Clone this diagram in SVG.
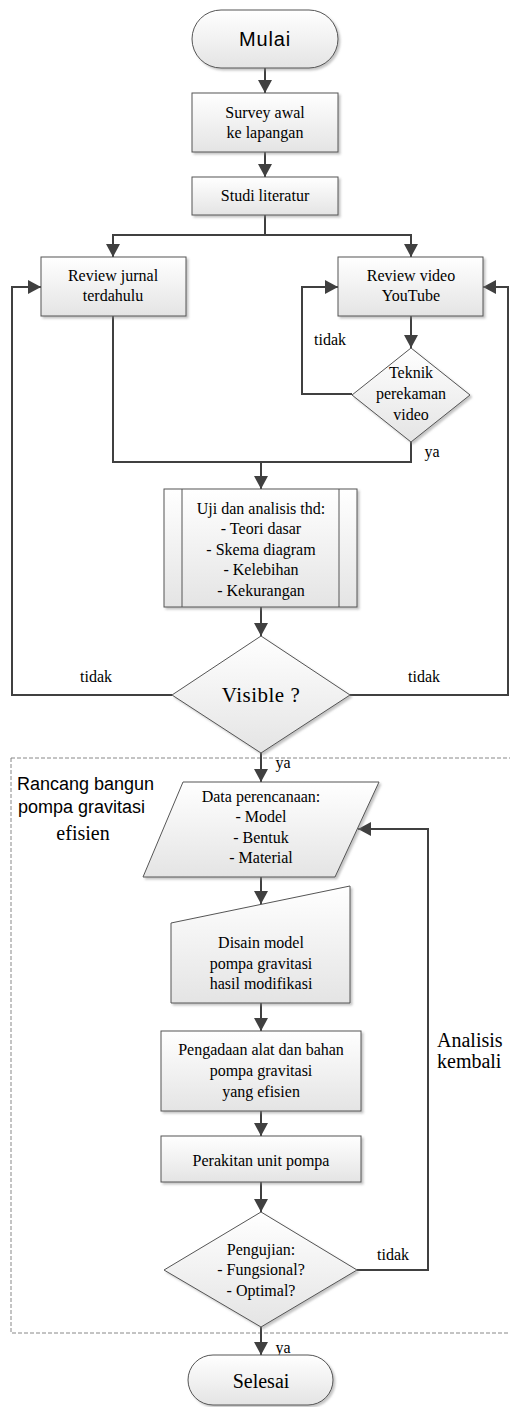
<svg xmlns="http://www.w3.org/2000/svg" width="510" height="1407" viewBox="0 0 510 1407">
<defs>
<linearGradient id="g" x1="0" y1="0" x2="0" y2="1"><stop offset="0" stop-color="#ffffff"/><stop offset="1" stop-color="#e4e4e4"/></linearGradient>
<filter id="sh" x="-10%" y="-10%" width="130%" height="130%"><feDropShadow dx="2" dy="2" stdDeviation="1" flood-color="#888" flood-opacity="0.5"/></filter>
<marker id="ar" markerUnits="userSpaceOnUse" markerWidth="14" markerHeight="14" viewBox="0 0 14 14" refX="13" refY="7" orient="auto"><path d="M0,0 L13,7 L0,14 z" fill="#404040"/></marker>
<style>
.n{fill:url(#g);stroke:#555;stroke-width:1;filter:url(#sh)}
.l{fill:none;stroke:#404040;stroke-width:2}
.a{marker-end:url(#ar)}
.t{font-family:'Liberation Serif','Times New Roman','DejaVu Serif',serif;font-size:16px;fill:#000;text-anchor:middle}
.s{font-family:'Liberation Sans',Arial,sans-serif;fill:#000}
</style>
</defs>
<rect width="510" height="1407" fill="#fff"/>
<g id="region">
<rect x="11" y="758" width="504" height="575" fill="none" stroke="#888" stroke-width="1" stroke-dasharray="4,2"/>
<text class="s" x="17" y="790" font-size="18">Rancang bangun</text>
<text class="s" x="18" y="813" font-size="18">pompa gravitasi</text>
<text class="t" x="83" y="840" style="font-size:20px">efisien</text>
</g>
<g id="connectors">
<path class="l a" d="M265,68 V93"/>
<path class="l a" d="M265,152 V177"/>
<path class="l a" d="M265,215 V235 H113 V257"/>
<path class="l a" d="M265,235 H411 V257"/>
<path class="l a" d="M411,316 V348"/>
<path class="l a" d="M352,394 H302 V287 H338"/>
<path class="l" d="M113,316 V462 H411 V442"/>
<path class="l a" d="M261,462 V489"/>
<path class="l a" d="M261,607 V636"/>
<path class="l a" d="M172,695 H12 V287 H41"/>
<path class="l a" d="M350,695 H508 V287 H483"/>
<path class="l a" d="M261,753 V782"/>
<path class="l a" d="M261,877 V904"/>
<path class="l a" d="M261,1003 V1031"/>
<path class="l a" d="M261,1111 V1136"/>
<path class="l a" d="M261,1182 V1212"/>
<path class="l a" d="M357,1270 H428 V829 H358"/>
<path class="l a" d="M261,1327 V1355"/>
<text class="t" x="330" y="345">tidak</text>
<text class="t" x="432" y="457">ya</text>
<text class="t" x="96" y="682">tidak</text>
<text class="t" x="424" y="682">tidak</text>
<text class="t" x="283" y="768">ya</text>
<text class="t" x="393" y="1260">tidak</text>
<text class="t" x="283" y="1353">ya</text>
<text class="t" x="437" y="1047" style="font-size:20px;text-anchor:start">Analisis</text>
<text class="t" x="437" y="1068" style="font-size:20px;text-anchor:start">kembali</text>
</g>
<g id="mulai">
<rect class="n" x="192" y="10" width="146" height="58" rx="29"/>
<text class="s" x="265" y="46" font-size="20" text-anchor="middle" letter-spacing="0.8">Mulai</text>
</g>
<g id="survey">
<rect class="n" x="192" y="93" width="146" height="59"/>
<text class="t" x="265" y="118">Survey awal</text>
<text class="t" x="265" y="138">ke lapangan</text>
</g>
<g id="studi">
<rect class="n" x="192" y="177" width="146" height="38"/>
<text class="t" x="265" y="201">Studi literatur</text>
</g>
<g id="jurnal">
<rect class="n" x="41" y="257" width="145" height="59"/>
<text class="t" x="113" y="281">Review jurnal</text>
<text class="t" x="113" y="301">terdahulu</text>
</g>
<g id="video">
<rect class="n" x="338" y="257" width="145" height="59"/>
<text class="t" x="411" y="281">Review video</text>
<text class="t" x="411" y="301">YouTube</text>
</g>
<g id="teknik">
<path class="n" d="M411,348 L470,395 L411,442 L352,395 Z"/>
<text class="t" x="411" y="378">Teknik</text>
<text class="t" x="411" y="399">perekaman</text>
<text class="t" x="411" y="420">video</text>
</g>
<g id="uji">
<rect class="n" x="164" y="489" width="193" height="118"/>
<line x1="182" y1="489" x2="182" y2="607" stroke="#555"/>
<line x1="339" y1="489" x2="339" y2="607" stroke="#555"/>
<text class="t" x="261" y="514">Uji dan analisis thd:</text>
<text class="t" x="261" y="534">- Teori dasar</text>
<text class="t" x="261" y="555">- Skema diagram</text>
<text class="t" x="261" y="575">- Kelebihan</text>
<text class="t" x="261" y="596">- Kekurangan</text>
</g>
<g id="visible">
<path class="n" d="M261,636 L350,695 L261,753 L172,695 Z"/>
<text class="t" x="261" y="702" style="font-size:21px" letter-spacing="0.5">Visible ?</text>
</g>
<g id="data">
<path class="n" d="M183,782 L379,782 L335,877 L143,877 Z"/>
<text class="t" x="261" y="802">Data perencanaan:</text>
<text class="t" x="261" y="822">- Model</text>
<text class="t" x="261" y="843">- Bentuk</text>
<text class="t" x="261" y="863">- Material</text>
</g>
<g id="disain">
<path class="n" d="M171,923 L350,886 L350,1003 L171,1003 Z"/>
<text class="t" x="261" y="948">Disain model</text>
<text class="t" x="261" y="969">pompa gravitasi</text>
<text class="t" x="261" y="989">hasil modifikasi</text>
</g>
<g id="pengadaan">
<rect class="n" x="161" y="1031" width="200" height="80"/>
<text class="t" x="261" y="1055">Pengadaan alat dan bahan</text>
<text class="t" x="261" y="1076">pompa gravitasi</text>
<text class="t" x="261" y="1097">yang efisien</text>
</g>
<g id="perakitan">
<rect class="n" x="161" y="1136" width="200" height="46"/>
<text class="t" x="261" y="1166">Perakitan unit pompa</text>
</g>
<g id="pengujian">
<path class="n" d="M261,1212 L357,1270 L261,1327 L164,1270 Z"/>
<text class="t" x="261" y="1255">Pengujian:</text>
<text class="t" x="261" y="1275">- Fungsional?</text>
<text class="t" x="261" y="1296">- Optimal?</text>
</g>
<g id="selesai">
<rect class="n" x="188" y="1355" width="145" height="50" rx="25"/>
<text class="t" x="261" y="1388" style="font-size:20px">Selesai</text>
</g>
</svg>
